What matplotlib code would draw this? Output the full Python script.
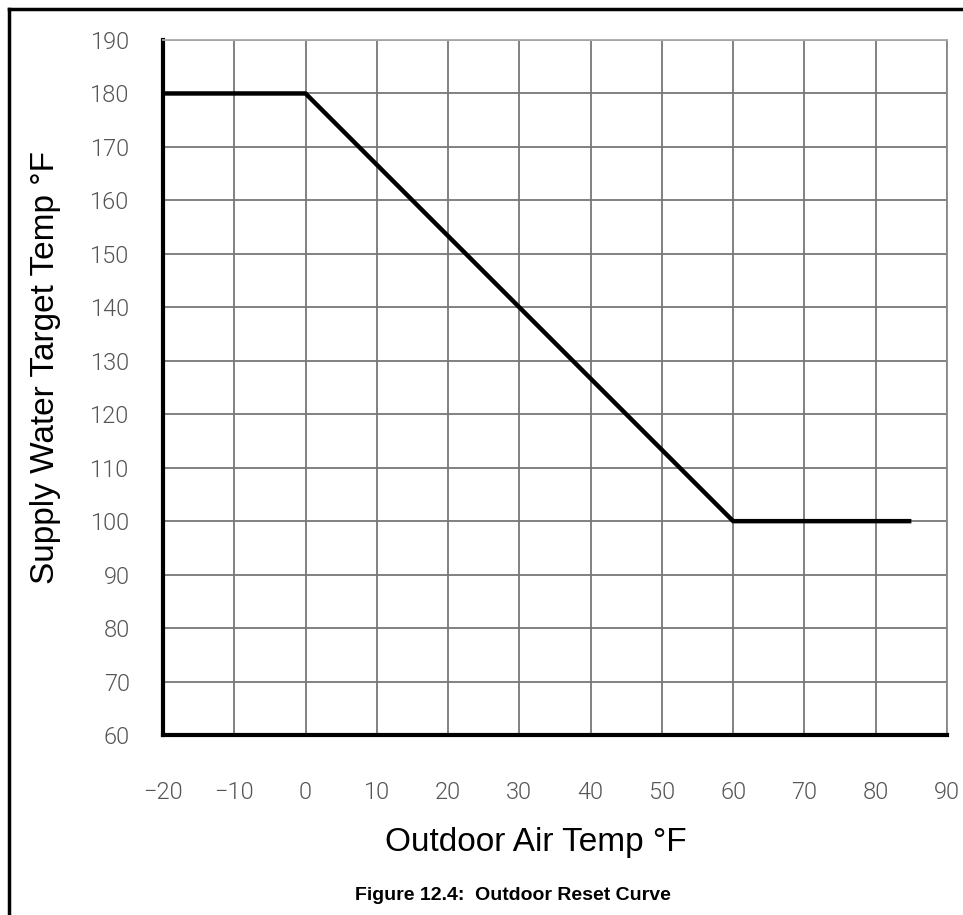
import matplotlib
matplotlib.use("Agg")
import matplotlib.pyplot as plt
from matplotlib.lines import Line2D

outdoor = [-20, 0, 60, 85]
supply = [180, 180, 100, 100]
xticks = list(range(-20, 91, 10))
yticks = list(range(60, 191, 10))

plt.rcParams['font.family'] = ['Liberation Sans', 'DejaVu Sans']

fig = plt.figure(figsize=(9.63, 9.15), dpi=100)
ax = fig.add_axes([163/963, 1 - 735/915, (947 - 163)/963, (735 - 40)/915])

ax.plot(outdoor, supply, color='black', lw=3.2, solid_capstyle='butt', clip_on=False, zorder=5)

ax.set_xlim(-20, 90)
ax.set_ylim(60, 190)
ax.set_xticks(xticks)
ax.set_yticks(yticks)
ax.grid(True, color='#777777', lw=1.3)
ax.tick_params(length=0, labelsize=17, labelcolor='#555555')
ax.tick_params(axis='x', pad=33)
ax.tick_params(axis='y', pad=24)
for lab in ax.get_xticklabels() + ax.get_yticklabels():
    lab.set_family(['Roboto', 'DejaVu Sans'])
    lab.set_fontweight(300)

ax.spines['left'].set_linewidth(3)
ax.spines['bottom'].set_linewidth(3)
ax.spines['top'].set_color('#aaaaaa')
ax.spines['right'].set_color('#888888')
ax.spines['top'].set_linewidth(1.3)
ax.spines['right'].set_linewidth(1.3)

fig.text(46/963, 1 - 368/915, "Supply Water Target Temp °F", rotation=90,
         ha='center', va='center', fontsize=24)
fig.text(536/963, 1 - 842/915, "Outdoor Air Temp °F", ha='center', va='center', fontsize=24)
fig.text(513/963, 1 - 895/915, "Figure 12.4:  Outdoor Reset Curve", ha='center', va='center',
         fontsize=14, fontweight='bold')

# outer frame
fig.add_artist(Line2D([9/963, 9/963], [0, 1 - 9/915], color='black', lw=2.5, transform=fig.transFigure))
fig.add_artist(Line2D([9/963, 1], [1 - 9/915, 1 - 9/915], color='black', lw=2.5, transform=fig.transFigure))

fig.savefig("out.png", dpi=100)
